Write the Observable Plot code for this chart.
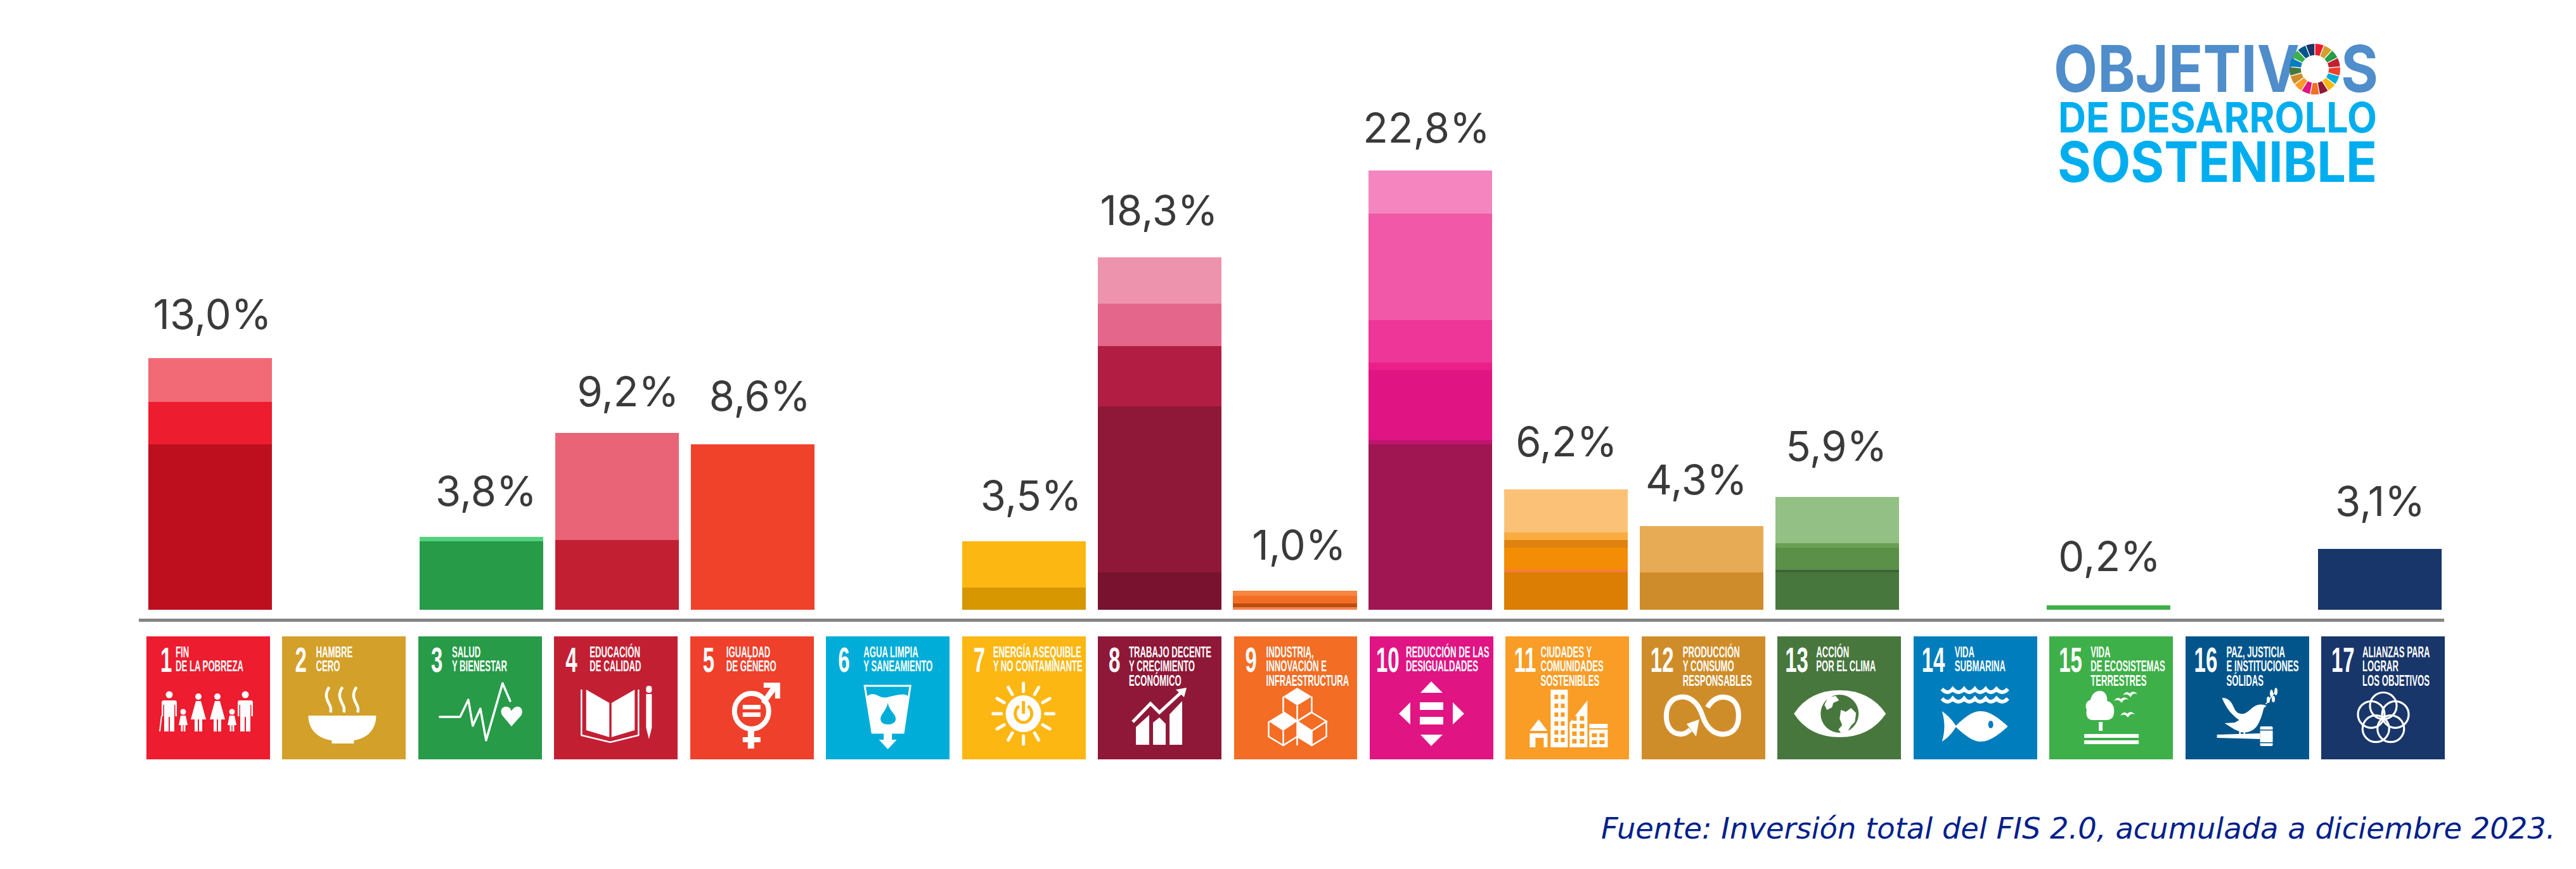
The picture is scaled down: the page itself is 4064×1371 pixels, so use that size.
<!DOCTYPE html>
<html><head><meta charset="utf-8">
<script src="https://cdn.jsdelivr.net/npm/d3@7"></script>
<script src="https://cdn.jsdelivr.net/npm/@observablehq/plot@0.6"></script>
<style>
html,body{margin:0;padding:0;background:#fff;overflow:hidden}
svg{display:block}
</style></head><body><div id="chart"></div>
<script>
// ---------- data ----------
const goals = d3.range(1, 18);
const tileColors = ["#ED1C2E","#D3A029","#279B48","#C31F33","#EF402B","#00ADD8","#FDB713","#8F1838","#F36D25","#E11484","#F99D26","#CF8D2A","#48773E","#007DBC","#3EB049","#02558B","#18366A"];
const tileLines = [
  ["FIN","DE LA POBREZA"],["HAMBRE","CERO"],["SALUD","Y BIENESTAR"],["EDUCACIÓN","DE CALIDAD"],
  ["IGUALDAD","DE GÉNERO"],["AGUA LIMPIA","Y SANEAMIENTO"],["ENERGÍA ASEQUIBLE","Y NO CONTAMINANTE"],
  ["TRABAJO DECENTE","Y CRECIMIENTO","ECONÓMICO"],["INDUSTRIA,","INNOVACIÓN E","INFRAESTRUCTURA"],
  ["REDUCCIÓN DE LAS","DESIGUALDADES"],["CIUDADES Y","COMUNIDADES","SOSTENIBLES"],
  ["PRODUCCIÓN","Y CONSUMO","RESPONSABLES"],["ACCIÓN","POR EL CLIMA"],["VIDA","SUBMARINA"],
  ["VIDA","DE ECOSISTEMAS","TERRESTRES"],["PAZ, JUSTICIA","E INSTITUCIONES","SÓLIDAS"],["ALIANZAS PARA","LOGRAR","LOS OBJETIVOS"]
];
const segmentGoals = [1,1,1, 3,3, 4,4, 5, 7,7, 8,8,8,8,8, 9,9,9,9, 10,10,10,10,10,10,10, 11,11,11,11,11,11, 12,12, 13,13,13,13,13, 15, 17];
const segmentValues = [8.59,2.20,2.27, 3.54,0.24, 3.62,5.56, 8.59, 1.15,2.40, 1.94,8.62,3.13,2.20,2.40, 0.13,0.20,0.39,0.26, 8.59,0.23,3.62,0.39,2.20,5.53,2.24, 1.94,0.13,1.15,0.39,0.39,2.24, 1.94,2.40, 1.94,0.13,1.15,0.23,2.40, 0.23, 3.16];
const segmentFills = ["#BE0F1F","#ED1D2F","#F26A75", "#279B48","#52D27C", "#C21F33","#E86476", "#F0412B", "#D69700","#FDB713",
  "#78122E","#8F1838","#B21E43","#E4668A","#EE93AD", "#F9844F","#B84F10","#F36E24","#F7843F",
  "#A01653","#C01472","#E01483","#EA2088","#EE3699","#F158A8","#F585BF",
  "#DB7E03","#F47B3F","#F48D06","#E08210","#F9AC40","#FBC277", "#CE8D2A","#E7AB55",
  "#48773E","#3E6436","#5B9049","#68A054","#93C084", "#3EB049", "#18366A"];
const labelGoals = [1,3,4,5,7,8,9,10,11,12,13,15,17];
const labelTexts = ["13,0%","3,8%","9,2%","8,6%","3,5%","18,3%","1,0%","22,8%","6,2%","4,3%","5,9%","0,2%","3,1%"];
const labelNudgeX = [3,7,17,11,11,-1,6,-7,0,-9,-2,1,0];
const labelGap = [46,50,42,53,50,51,50,44,53,51,58,55,52];
const numberLeft = [22,20,20,18,20,19,18,17,18,10,13,14,12,13,15,14,16];
const textLeft = [46,53,53,56,57,59,49,49,51,57,55,65,61,65,65,65,65];
const caption = "Fuente: Inversión total del FIS 2.0, acumulada a diciembre 2023.";

const segments = segmentGoals.map((goal, i) => ({goal, value: segmentValues[i], fill: segmentFills[i]}));
const tops = d3.rollup(segments, v => d3.sum(v, d => d.value), d => d.goal);

// ---------- pictograms (white on the tile, in tile-local units) ----------
const man = (x) => `<circle cx="${x}" cy="92" r="5.5"/><path d="M${x-9} 101H${x+9}Q${x+12} 101 ${x+12} 105V126H${x+9.5}V108H${x+8}V150H${x+1}V127H${x-1}V150H${x-8}V108H${x-9.5}V126H${x-12}V105Q${x-12} 101 ${x-9} 101Z"/>`;
const woman = (x) => `<circle cx="${x}" cy="95" r="5"/><path d="M${x-4} 102H${x+4}L${x+12} 131H${x+6}V150H${x+1}V131H${x-1}V150H${x-6}V131H${x-12}Z"/>`;
const kid = (x) => `<circle cx="${x}" cy="119" r="4.5"/><path d="M${x-4} 125H${x+4}L${x+7} 140H${x+3.5}V150H${x+.7}V140H${x-.7}V150H${x-3.5}V140H${x-7}Z"/>`;
const steam = (x) => `<path transform="translate(${x} 0)" d="M4 80C-3 90 -1 97 3 105C7 112 7 115 6 120" fill="none" stroke="#fff" stroke-width="4.5"/>`;
const rays = d3.range(12).map(i => { const a = i * Math.PI / 6, s = Math.sin(a), c = Math.cos(a);
  return `<line x1="${97 + 35*s}" y1="${122 - 35*c}" x2="${97 + 48*s}" y2="${122 - 48*c}"/>`; }).join("");
const bird = (x, y) => `<path transform="translate(${x} ${y})" d="M-11 3Q-6 -5 0 0Q5 -6 12 1Q5 -2 1 6Q-4 -1 -11 3Z"/>`;
const wave = (y) => `<path d="M45 ${y}Q54 ${y+10} 62 ${y}Q71 ${y+10} 80 ${y}Q88 ${y+10} 97 ${y}Q105 ${y+10} 114 ${y}Q122 ${y+10} 131 ${y}Q140 ${y+10} 149 ${y}" fill="none" stroke="#fff" stroke-width="6"/>`;
const windows = (xs, ys, c, w, h) => xs.flatMap(x => ys.map(y => `<rect x="${x}" y="${y}" width="${w}" height="${h}" fill="${c}"/>`)).join("");
const iconBuilders = [
  () => man(36)+kid(58)+woman(82)+woman(112)+kid(135)+man(156)+`<line x1="24" y1="125" x2="21" y2="150" stroke="#fff" stroke-width="2"/>`,
  () => steam(70)+steam(91)+steam(113)+`<path d="M41 125H148C148 150 130 162 113 164V169H78V164C60 162 41 150 41 125Z"/>`,
  () => `<polyline points="34,127 66,127 79,100 86,141 98,114 107,164 133,74 145,102" fill="none" stroke="#fff" stroke-width="3.5" stroke-linecap="round" stroke-linejoin="round"/><path d="M147 142L132 124C128 115 134 110 140 111C144 112 146 114 147 118C149 114 151 112 155 111C161 110 166 115 163 124Z"/>`,
  () => `<path d="M50.5 84L87 105V159L50.5 148Z"/><path d="M127 84L90.5 105V159L127 148Z"/><polyline points="43,84 43,156 88.5,167 133,156 133,84" fill="none" stroke="#fff" stroke-width="2.5"/><rect x="145" y="78" width="9" height="11" rx="4"/><path d="M145 91H154V144L149.5 162L145 144Z"/>`,
  () => `<ellipse cx="97" cy="118" rx="27" ry="28" fill="none" stroke="#fff" stroke-width="8"/><path d="M116 73H142V98H134V87L118 108L112 103L127 81H116Z"/><rect x="91" y="146" width="10" height="31"/><rect x="83" y="159" width="28" height="8"/><rect x="83" y="108" width="28" height="7"/><rect x="83" y="120" width="28" height="7"/>`,
  (c) => `<path d="M61 78H133L122 152H73Z" fill="none" stroke="#fff" stroke-width="3"/><path d="M64 95Q72 88 81 93T97 96T115 92T130 95L122 152H73Z"/><path d="M97.5 105C100 118 110 122 110 130C110 136 104 139 98 139C91 139 86 136 86 130C86 122 95 118 97.5 105Z" fill="${c}"/><path d="M91 152H104V163H111.5L97.5 178L83.5 163H91Z"/>`,
  (c) => `<g stroke="#fff" stroke-width="5" stroke-linecap="round">${rays}</g><ellipse cx="97" cy="122" rx="28" ry="29"/><path d="M90 110A13 14 0 1 0 104 110" fill="none" stroke="${c}" stroke-width="5"/><line x1="97" y1="102" x2="97" y2="122" stroke="${c}" stroke-width="5"/>`,
  () => `<path d="M60 143L81 124V171H60Z"/><path d="M87 136L97 128L107 138V171H87Z"/><path d="M113 123L133 102V171H113Z"/><polyline points="55,135 83,106 97,120 134,86" fill="none" stroke="#fff" stroke-width="5"/><path d="M123 84L140 81L136 96Z"/>`,
  () => `<g fill="none" stroke="#fff" stroke-width="2.5"><path d="M78 95V119L100 134M123 95V119L100 134V172M100 109V134M55 134V158L78 172L100 158M146 134V158L123 172L100 158M78 149V172M123 149V172M123 120L146 134L123 149L100 134Z"/></g><path d="M100 81L123 95L100 109L78 95Z"/><path d="M78 120L100 134L78 149L55 134Z"/><path d="M100 134L123 149V172L100 158Z"/>`,
  () => `<path d="M97 71L115 89H80Z"/><path d="M80 155H115L97 173Z"/><path d="M64 104V139L46 122Z"/><path d="M131 104L149 122L131 139Z"/><rect x="79" y="104" width="37" height="12"/><rect x="79" y="127" width="37" height="12"/>`,
  (c) => `<path d="M52 131L66 149H38Z"/><path d="M38 153H66V175H60V160H47V175H38Z"/><rect x="71" y="84" width="27" height="91"/>${windows([77,87],[92,106,120,134,148,160],c,6,7)}<path d="M101 136L129 101V175H101Z"/>${windows([105,117],[126,138,150,162],c,7,7)}<rect x="132" y="138" width="29" height="7"/><rect x="132" y="147" width="29" height="28"/>${windows([136,148],[153,164],c,8,6)}`,
  () => `<g fill="none" stroke="#fff" stroke-width="8"><path d="M96 125C88 100 72 94 60 96C45 98 39 112 39 126C39 142 47 153 60 154C67 155 72 152 77 147"/><path d="M96 125C104 150 120 156 132 154C147 152 153 140 153 125C153 110 147 98 132 96C120 94 110 102 104 112"/></g><path d="M71 138L91 131L86 158Z"/>`,
  (c) => `<path d="M26 122Q50 85 98 85Q146 85 171 122Q146 159 98 159Q50 159 26 122Z"/><ellipse cx="98" cy="122" rx="30" ry="30" fill="${c}"/><path d="M80 96L92 94L97 101L88 105L86 112L78 116L74 108Z"/><path d="M100 116L108 119L116 113L124 121L122 135L116 141L110 151L100 152L96 147L102 140L98 130Z"/>`,
  (c) => wave(83)+wave(98)+`<path d="M45 118C55 125 62 133 67 141C83 125 95 118 106 118C122 118 138 132 149 142C138 152 122 166 106 166C95 166 83 158 67 143C62 151 55 160 45 166C50 150 50 134 45 118Z"/><ellipse cx="122" cy="139" rx="4" ry="6" fill="${c}"/>`,
  () => `<path d="M80 86C88 86 92 94 91 102C100 104 103 112 102 120C102 127 98 132 90 132H68C60 132 57 124 59 116C55 108 59 102 65 100C66 92 72 86 80 86Z"/><rect x="78" y="135" width="6" height="14"/><rect x="55" y="154" width="86" height="6"/><rect x="55" y="164" width="86" height="6"/>`+bird(113,99)+bird(127,90)+bird(123,122),
  (c) => `<path d="M58 97C68 97 73 103 77 113C80 120 85 123 92 122C100 120 104 112 112 109C118 107 124 107 128 110L124 113C122 120 120 130 114 140C108 150 95 153 88 151L78 147L62 137L78 136L85 132C75 125 65 115 58 97Z"/><rect x="85" y="150" width="2.5" height="8"/><rect x="92" y="150" width="2.5" height="8"/><path d="M50 155L118 153V162L50 160Z"/><rect x="118" y="142" width="20" height="31" rx="2"/><rect x="117" y="147" width="22" height="1.5" fill="${c}"/><rect x="117" y="167" width="22" height="1.5" fill="${c}"/><path d="M127 107L143 86" stroke="#fff" stroke-width="1.5"/><ellipse cx="143" cy="87" rx="2.5" ry="6"/><ellipse cx="136" cy="90" rx="2.5" ry="6"/><ellipse cx="131" cy="100" rx="2.5" ry="5"/><ellipse cx="139" cy="99" rx="2.5" ry="5"/>`,
  () => `<g fill="none" stroke="#fff" stroke-width="3.2">${d3.range(5).map(i => { const a = (-90 + i*72) * Math.PI/180; return `<circle cx="${98 + 20*Math.cos(a)}" cy="${129.5 + 20*Math.sin(a)}" r="21"/>`; }).join("")}</g>`
];

// ---------- function marks ----------
function tileArt(index, {x}, values, {marginTop}) {
  const g = d3.create("svg:g").attr("text-anchor", "start");
  const family = "'Liberation Sans'";
  goals.forEach((goal, i) => {
    const t = g.append("g").attr("transform", `translate(${x(goal)} ${marginTop})`);
    t.append("text").text(goal).attr("transform", `translate(${numberLeft[i]} 56) scale(.6 1)`)
      .attr("fill", "#fff").attr("font-family", family).attr("font-weight", 700).attr("font-size", 55);
    tileLines[i].forEach((line, j) => {
      t.append("text").text(line).attr("transform", `translate(${textLeft[i]} ${33 + j*22.3}) scale(.56 1)`)
        .attr("fill", "#fff").attr("font-family", family).attr("font-weight", 700).attr("font-size", 23.5);
    });
    t.append("g").attr("fill", "#fff").html(iconBuilders[i](tileColors[i]));
  });
  return g.node();
}
function logo() {
  const g = d3.create("svg:g").attr("text-anchor", "start");
  const rows = [["OBJETIVOS", 3240, 145, 512, 102, "#4F8DCB"], ["DE DESARROLLO", 3247, 209, 503, 66, "#00AEEF"], ["SOSTENIBLE", 3246, 287, 504, 88, "#00AEEF"]];
  rows.forEach(([s, x, y, len, size, fill]) => {
    const t = g.append("text").attr("x", x).attr("y", y).attr("textLength", len).attr("lengthAdjust", "spacingAndGlyphs")
      .attr("font-family", "Inter").attr("font-weight", 700).attr("font-size", size).attr("fill", fill);
    if (s === "OBJETIVOS") { t.append("tspan").text("OBJETIV"); t.append("tspan").text("O").attr("fill", "transparent"); t.append("tspan").text("S"); }
    else t.text(s);
  });
  const arc = d3.arc().innerRadius(22).outerRadius(40).padAngle(0.03);
  const step = 2 * Math.PI / 17;
  g.append("g").attr("transform", "translate(3652 109)").selectAll("path").data(tileColors).join("path")
    .attr("d", (d, i) => arc({startAngle: i*step, endAngle: (i+1)*step})).attr("fill", d => d);
  return g.node();
}

// ---------- bars ----------
const bars = Plot.plot({
  width: 4064, height: 1000, marginTop: 0, marginBottom: 0, marginLeft: 219, marginRight: 208,
  style: {background: "#fff", fontFamily: "Inter"},
  x: {type: "band", domain: goals, range: [234, 3852], paddingInner: 0.0885, paddingOuter: 0, round: false, axis: null},
  y: {domain: [0, 31.645], range: [962, 0], axis: null},
  marks: [
    Plot.barY(segments, {x: "goal", y: "value", fill: "fill", shapeRendering: "crispEdges"}),
    Plot.ruleY([-0.53], {stroke: "#858585", strokeWidth: 5}),
    ...labelGoals.map((goal, i) => Plot.text([goal], {
      x: d => d, y: d => tops.get(d), text: () => labelTexts[i], dx: labelNudgeX[i], dy: -labelGap[i],
      lineAnchor: "bottom", fontSize: 65, fontWeight: 400, fill: "#3a3a3a", fontFamily: "Inter"
    })),
    logo
  ]
});

// ---------- tile row + source ----------
const tiles = Plot.plot({
  width: 4064, height: 371, marginTop: 4, marginBottom: 173, marginLeft: 0, marginRight: 0,
  style: {background: "#fff"},
  x: {type: "band", domain: goals, range: [231, 3857], paddingInner: 0.0907, paddingOuter: 0, round: false, axis: null},
  color: {type: "identity"},
  marks: [
    Plot.cell(goals, {x: d => d, fill: (d, i) => tileColors[i], shapeRendering: "crispEdges"}),
    tileArt,
    Plot.text([caption], {text: d => d, frameAnchor: "bottom-right", dx: -33, dy: 124, lineAnchor: "bottom",
      fontSize: 46.4, fontStyle: "italic", fill: "#001F8B", fontFamily: "DejaVu Sans"})
  ]
});
document.getElementById("chart").append(bars, tiles);
</script></body></html>
